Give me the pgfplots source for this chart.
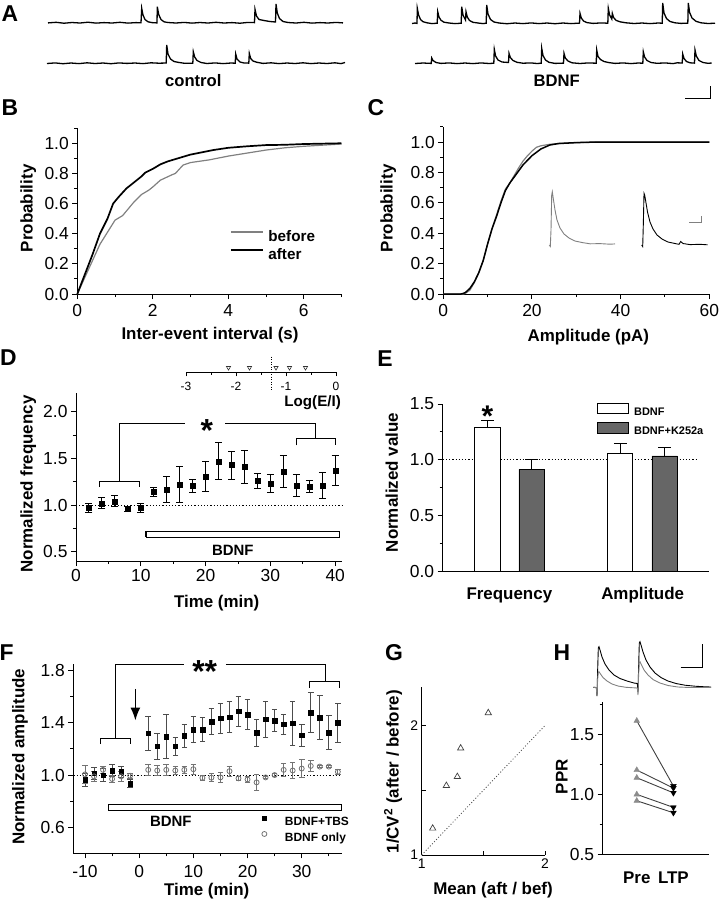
\documentclass[border=0pt]{standalone}
\usepackage{fontspec}
\setmainfont{Liberation Sans}
\usepackage{pgfplots}
\usepackage{pgfplotstable}
\pgfplotsset{compat=1.18}
\usetikzlibrary{arrows.meta}
\newcommand{\fs}[1]{\fontsize{#1}{#1}\selectfont}
\pgfplotsset{myax/.style={scale only axis, anchor=south west, clip=false,
  axis lines*=left, axis line style={-, line width=1bp},
  tick align=outside, major tick length=5bp, minor tick length=3bp,
  tick style={line width=1bp, black},
  tick label style={font=\fs{17.5}},
  /pgf/number format/assume math mode=true}}
\tikzset{lab/.style={font=\bfseries\fs{17}, inner sep=0pt},
         plab/.style={font=\bfseries\fs{23}, inner sep=0pt}}

\pgfplotstableread{
x y
0 0
0.2 0.13
0.4 0.26
0.6 0.40
0.8 0.50
0.95 0.60
1.1 0.645
1.3 0.70
1.5 0.74
1.7 0.78
1.8 0.805
2.0 0.83
2.2 0.86
2.4 0.88
2.6 0.895
2.8 0.91
3.0 0.925
3.3 0.94
3.6 0.955
4.0 0.97
4.5 0.98
5.0 0.988
5.5 0.99
6.0 0.995
7.0 1.0
}\Bafter
\pgfplotstableread{
x y
0 0
0.2 0.11
0.4 0.22
0.6 0.33
0.8 0.41
1.0 0.49
1.2 0.52
1.3 0.55
1.5 0.61
1.7 0.66
1.9 0.69
2.0 0.71
2.2 0.755
2.5 0.79
2.6 0.80
2.8 0.855
3.0 0.872
3.5 0.89
4.0 0.915
4.5 0.935
5.0 0.955
5.5 0.97
6.0 0.98
7.0 0.995
}\Bbefore
\pgfplotstableread{
x y
0 0
4 0
4.5 0.004
5 0.01
6 0.037
7 0.08
8 0.14
9 0.22
10 0.33
11 0.43
12 0.51
13 0.60
14 0.68
15 0.73
16 0.77
17 0.81
18 0.85
19 0.88
20 0.91
22 0.954
24 0.98
26 0.99
30 0.996
35 1.0
60 1.0
}\Cblack
\pgfplotstableread{
x y
0 0
4.5 0
5 0.005
6 0.025
7 0.075
8 0.14
9 0.22
10 0.33
11 0.43
12 0.52
13 0.61
14 0.69
15 0.73
16 0.78
17 0.83
18 0.875
19 0.91
20 0.94
21 0.965
22 0.975
24 0.985
26 0.99
30 0.996
35 1.0
60 1.0
}\Cgray
\pgfplotstableread{
x y e
2 0.97 0.05
4 1.02 0.06
6 1.04 0.06
8 0.96 0.025
10 0.97 0.05
12 1.14 0.05
14 1.17 0.14
16 1.22 0.19
18 1.21 0.07
20 1.31 0.16
22 1.47 0.20
24 1.43 0.15
26 1.41 0.18
28 1.26 0.08
30 1.23 0.10
32 1.36 0.17
34 1.21 0.12
36 1.20 0.06
38 1.21 0.14
40 1.37 0.16
}\Ddata
\pgfplotstableread{
x y e
-10 0.964 0.05
-8.33 1.015 0.045
-6.67 1.0 0.05
-5 1.033 0.045
-3.33 1.025 0.04
-1.67 0.936 0.03
1.67 1.32 0.13
3.33 1.222 0.10
5 1.295 0.17
6.67 1.22 0.07
8.33 1.30 0.09
10 1.35 0.10
11.67 1.35 0.095
13.33 1.41 0.10
15 1.437 0.115
16.67 1.445 0.12
18.33 1.49 0.115
20 1.465 0.115
21.67 1.324 0.105
23.33 1.427 0.14
25 1.417 0.086
26.67 1.39 0.077
28.33 1.398 0.168
30 1.306 0.086
31.67 1.48 0.15
33.33 1.44 0.167
35 1.327 0.13
36.67 1.40 0.15
}\Ftbs
\pgfplotstableread{
x y e
-10 1.005 0.07
-8.33 0.99 0.04
-6.67 1.04 0.03
-5 0.97 0.03
-3.33 0.99 0.04
-1.67 0.995 0.02
1.67 1.04 0.04
3.33 1.035 0.04
5 1.04 0.04
6.67 1.035 0.03
8.33 1.04 0.03
10 1.045 0.04
11.67 0.978 0.02
13.33 0.98 0.03
15 0.982 0.04
16.67 1.03 0.04
18.33 0.975 0.015
20 0.966 0.025
21.67 0.944 0.06
23.33 0.982 0.01
25 1.0 0.01
26.67 1.04 0.05
28.33 1.035 0.06
30 1.05 0.07
31.67 1.07 0.04
33.33 1.065 0.01
35 1.065 0.01
36.67 1.025 0.02
}\Fonly

\begin{document}
\begin{tikzpicture}
\path[use as bounding box] (0,0) rectangle (719bp,-900bp);
% ---------- canvas: traces, labels ----------
\begin{axis}[at={(0bp,0bp)}, anchor=north west, scale only axis, width=719bp, height=900bp,
  xmin=0, xmax=719, ymin=0, ymax=900, y dir=reverse, hide axis, clip=false]
% A traces
\addplot[black, line width=1.3bp] coordinates {(48,22.9) (56,22.3) (64,23.2) (72,22.5) (80,23.0) (88,22.2) (96,23.1) (104,22.6) (112,23.0) (120,22.3) (128,23.1) (136,22.6) (141,22.8) (141.7,8.3) (143,15) (145,19.5) (148,21.8) (152,22.6) (157,22.9) (157.3,6.7) (158.7,14.5) (161,19.5) (164,21.8) (168,22.5) (176,23.0) (184,22.4) (192,23.1) (200,22.5) (208,23.0) (216,22.3) (224,23.0) (232,22.6) (240,23.2) (248,22.4) (254.5,22.6) (255,9.3) (256.5,16) (259,19.5) (264,20.5) (270,21.5) (275.5,22) (276,4) (277.3,13) (279.5,18.5) (283,21.5) (288,22.5) (296,23.0) (304,22.3) (312,23.1) (320,22.6) (328,23.0) (336,22.4) (343,22.9)};
\addplot[black, line width=1.3bp] coordinates {(47,63.5) (55,62.9) (63,63.7) (71,63.0) (79,63.6) (87,62.8) (95,63.5) (103,63.0) (111,63.7) (119,62.9) (127,63.4) (135,63.0) (143,63.6) (151,62.8) (159,63.2) (166.2,63.0) (166.7,45) (168,54) (170.5,59) (174,61.5) (178,62.3) (184,63.2) (192.8,63.3) (193.3,51.7) (194.7,57) (197,60.5) (201,62.5) (207,63.5) (215,62.9) (223,63.6) (231,63.0) (235.2,63.2) (235.7,54) (237,59) (240,62) (244,63.0) (248.8,63.1) (249.3,53.3) (250.7,58.5) (253,61) (257,62.3) (263,63.4) (271,62.8) (279,63.6) (287,63.0) (295,63.5) (303,62.8) (311,63.6) (319,63.0) (327,63.5) (335,62.8) (341,63.6) (345,62.5)};
\addplot[black, line width=1.3bp] coordinates {(412,23.5) (415,23.0) (417,23.4) (417.3,8.3) (418.6,15) (420.5,19.5) (423,21.7) (427,22.8) (432,23.6) (437.2,23.2) (437.7,11.7) (439,17) (441,20.3) (444,22.2) (449,23.0) (455,23.6) (461.2,23.2) (461.7,6.7) (463,15) (465.5,20) (466,11.7) (467.3,17) (469.5,20.5) (473,22.3) (478,23.0) (483,23.6) (486.2,23.2) (486.7,5) (488,14) (490.5,19.5) (494,22) (499,23.0) (507,23.7) (515,23.0) (523,23.6) (531,22.9) (539,23.6) (547,23.0) (555,23.7) (563,23.0) (571,23.6) (579.5,23.1) (580,13.3) (581.3,18) (583.5,21) (587,22.6) (593,23.4) (601,22.9) (607.8,23.2) (608.3,8.3) (609.6,15) (611.8,19) (612.3,13.3) (613.6,17.5) (616,20.3) (620,21.8) (626,22.8) (634,23.5) (642,23.0) (650,23.6) (658,23.0) (662.2,23.2) (662.7,3) (664,13) (666.5,18.5) (670,21.5) (675,22.8) (681,23.4) (687.8,23.1) (688.3,3) (689.6,12.5) (692,18) (696,21.3) (701,22.8) (708,23.5) (715,23.2)};
\addplot[black, line width=1.3bp] coordinates {(415,63.5) (423,63.0) (431.2,63.4) (431.7,58) (433,60.5) (436,62.5) (441,63.4) (449,62.9) (457,63.6) (465,63.0) (473,63.6) (481,62.9) (489,63.5) (493.8,63.2) (494.3,49.3) (495.6,56) (498,60) (502,62) (506,62.3) (508.5,62.5) (509,53.3) (510.3,57.5) (513,60.5) (517,62.3) (523,63.2) (531,62.9) (537,63.5) (541.2,63.2) (541.7,48.3) (543,55.5) (545.5,60) (549,62.3) (555,63.4) (563.5,63.1) (564,53.3) (565.3,58) (568,61) (572,62.8) (580,63.5) (588,62.9) (596.2,63.2) (596.7,50) (598,56.5) (600.5,59.5) (604,61.5) (609,62.6) (615,63.4) (623,62.9) (631,63.6) (638,63.0) (642.8,63.2) (643.3,51.7) (644.6,57) (647,60.5) (651,62.5) (657,63.3) (665,62.9) (673,63.6) (677,62.8) (682.2,63.0) (682.7,54) (684,58.5) (686.5,61.5) (690,62.8) (694.5,63.1) (695,50) (696.3,56) (699,60.5) (703,62.5) (708,63.3) (711.7,63.0)};
\addplot[black, line width=1bp] coordinates {(685,98.3) (710.7,98.3) (710.7,86)};
% C inset traces
\addplot[gray, line width=0.9bp] coordinates {(549.3,245) (550.3,246.5) (551,230) (551.7,195) (552.3,191.7) (553.5,200) (555,210) (557,220) (560,228) (564,234) (569,238) (575,241) (582,242.5) (590,243.8) (600,243.6) (610,244.2) (615,243.9)};
\addplot[black, line width=0.9bp] coordinates {(641.7,245) (642.7,246.5) (643.3,225) (644,193.3) (644.7,195) (646,203) (647.5,212) (650,222) (653,229) (657,235) (662,239) (668,242) (675,243.5) (679,244.3) (680.7,241.5) (683,243.5) (690,244.6) (700,244.3) (707.7,244.8)};
\addplot[gray, line width=0.9bp] coordinates {(689.3,222.7) (701,222.7) (701,216)};
% H traces
\addplot[black, line width=0.9bp] coordinates {(593.3,687.3) (596.3,687.5) (597,696) (597.6,672) (598.3,648) (599,646.7) (600,650) (602,657) (605,664) (609,670) (614,675) (620,678.5) (627,681) (634,683) (637.3,683.5) (638,692) (638.6,668) (639.3,643) (640,641.7) (641,645) (643,652) (646,660) (650,667) (655,673) (661,677.5) (668,681) (676,683.5) (685,685.2) (695,686.2) (705,686.8) (711,687)};
\addplot[gray, line width=0.9bp] coordinates {(593.3,687.3) (596.3,687.5) (597,696) (597.6,680) (598.3,672) (599,671.7) (600.5,674) (603,677.5) (607,681) (612,684) (618,686) (626,687.3) (634,687.8) (637.3,688) (638,695) (638.6,675) (639.3,662) (640,661.7) (641.5,665) (644,670) (648,675) (653,679.5) (660,683) (668,685.5) (678,687) (690,687.5) (711,687.5)};
\addplot[black, line width=1bp] coordinates {(680.7,667.7) (702.3,667.7) (702.3,644)};
% panel letters
\node[plab] at (axis cs:10,13.3) {A};
\node[plab] at (axis cs:10,108) {B};
\node[plab] at (axis cs:376,108) {C};
\node[plab] at (axis cs:8.5,357.5) {D};
\node[plab] at (axis cs:385,359) {E};
\node[plab] at (axis cs:6.5,652.5) {F};
\node[plab] at (axis cs:394,653) {G};
\node[plab] at (axis cs:562,653) {H};
% texts
\node[lab, font=\bfseries\fs{16.7}] at (axis cs:193.3,81) {control};
\node[lab, font=\bfseries\fs{16.7}] at (axis cs:556.7,81) {BDNF};
\node[lab, rotate=90] at (axis cs:28.3,208.3) {Probability};
\node[lab] at (axis cs:210,335) {Inter-event interval (s)};
\node[lab, rotate=90] at (axis cs:388.3,208.3) {Probability};
\node[lab] at (axis cs:588.3,336.7) {Amplitude (pA)};
\node[lab, rotate=90] at (axis cs:28.3,484) {Normalized frequency};
\node[lab] at (axis cs:216.7,603.3) {Time (min)};
\node[lab, font=\bfseries\fs{15.2}, anchor=east] at (axis cs:341,402.3) {Log(E/I)};
\node[lab, rotate=90] at (axis cs:391.7,482.5) {Normalized value};
\node[lab, rotate=90] at (axis cs:20,756.7) {Normalized amplitude};
\node[lab] at (axis cs:206.7,891) {Time (min)};
\node[lab, rotate=90] at (axis cs:393,771.7) {1/CV\textsuperscript{2} (after / before)};
\node[lab] at (axis cs:493,890) {Mean (aft / bef)};
\node[lab, rotate=90] at (axis cs:561.7,776.7) {PPR};
\end{axis}

% ---------- B ----------
\begin{axis}[myax, at={(77.3bp,-294bp)}, width=264.2bp, height=165.8bp,
  xmin=0, xmax=7, ymin=0, ymax=1.1,
  xtick={0,2,4,6}, xticklabels={0,2,4,6}, minor xtick={1,3,5,7},
  ytick={0,0.2,0.4,0.6,0.8,1.0}, yticklabels={0.0,0.2,0.4,0.6,0.8,1.0},
  minor ytick={0.1,0.3,0.5,0.7,0.9,1.1},
  x tick label style={yshift=-2bp},
  legend style={at={(0.578,0.386)}, anchor=north west, draw=none, fill=none,
    inner sep=0pt, outer sep=0pt, row sep=4bp, font=\bfseries\fs{15.3},
    nodes={inner sep=0pt, text height=11bp, text depth=3bp},
    /tikz/every odd column/.append style={column sep=5bp}},
  legend cell align=left,
  legend image code/.code={\draw[#1] (0bp,5bp) -- (31.7bp,5bp);}]
\addplot[gray, line width=1.2bp] table[x=x,y=y] {\Bbefore};
\addlegendentry{before}
\addplot[black, line width=1.7bp] table[x=x,y=y] {\Bafter};
\addlegendentry{after}
\end{axis}

% ---------- C ----------
\begin{axis}[myax, at={(443.3bp,-294bp)}, width=266bp, height=167.2bp,
  xmin=0, xmax=60, ymin=0, ymax=1.1,
  xtick={0,20,40,60}, xticklabels={0,20,40,60}, minor xtick={10,30,50},
  x tick label style={yshift=-2bp},
  ytick={0,0.2,0.4,0.6,0.8,1.0}, yticklabels={0.0,0.2,0.4,0.6,0.8,1.0},
  minor ytick={0.1,0.3,0.5,0.7,0.9,1.1}]
\addplot[gray, line width=1.2bp] table[x=x,y=y] {\Cgray};
\addplot[black, line width=1.5bp] table[x=x,y=y] {\Cblack};
\end{axis}

% ---------- D inset ----------
\begin{axis}[scale only axis, anchor=south west, clip=false, at={(186bp,-372.3bp)},
  width=150bp, height=20bp, xmin=-3, xmax=0, ymin=0, ymax=1,
  axis x line*=bottom, axis y line=none, axis line style={-, line width=1bp},
  tick align=outside, major tick length=4bp, minor tick length=2.5bp,
  tick style={line width=1bp, black},
  xtick={-3,-2,-1,0}, xticklabels={-3,-2,-1,0}, minor xtick={-2.5,-1.5,-0.5},
  tick label style={font=\fs{12}, yshift=-2bp}]
\addplot[only marks, mark=triangle, mark size=2.4bp, mark options={rotate=180, fill=white, line width=0.6bp}, black!80] coordinates {(-2.15,0.23) (-1.73,0.23) (-1.2,0.23) (-0.93,0.23) (-0.61,0.23)};
\addplot[black, line width=0.8bp, dash pattern=on 1bp off 1.5bp] coordinates {(-1.29,0.78) (-1.29,-0.885)};
\end{axis}

% ---------- D ----------
\begin{axis}[myax, at={(76bp,-561bp)}, width=265.7bp, height=167.7bp,
  xmin=0, xmax=41, ymin=0.4, ymax=2.2,
  xtick={0,10,20,30,40}, xticklabels={0,10,20,30,40}, minor xtick={5,15,25,35},
  ytick={0.5,1,1.5,2}, yticklabels={0.5,1.0,1.5,2.0}, minor ytick={0.75,1.25,1.75}]
\addplot[black, line width=0.8bp, dash pattern=on 1.2bp off 2bp] coordinates {(0,1) (41,1)};
\addplot[only marks, mark=square*, mark size=2.5bp, black,
  error bars/.cd, y dir=both, y explicit,
  error bar style={line width=1bp, black},
  error mark options={rotate=90, mark size=3.5bp, line width=1bp}]
  table[x=x, y=y, y error=e] {\Ddata};
\addplot[fill=white, draw=black, line width=1.2bp] coordinates {(10.8,0.656) (40.6,0.656) (40.6,0.72) (10.8,0.72) (10.8,0.656)};
\addplot[black, line width=1bp] coordinates {(3.7,1.193) (3.7,1.257) (9.77,1.257) (9.77,1.193)};
\addplot[black, line width=1bp] coordinates {(6.69,1.257) (6.69,1.879) (16.8,1.879)};
\addplot[black, line width=1bp] coordinates {(23.0,1.879) (36.99,1.879) (36.99,1.711)};
\addplot[black, line width=1bp] coordinates {(34.06,1.64) (34.06,1.711) (39.97,1.711) (39.97,1.64)};
\node[font=\bfseries\fs{32}, inner sep=0pt] at (axis cs:20.2,1.80) {*};
\node[lab, font=\bfseries\fs{15}] at (axis cs:24.2,0.51) {BDNF};
\end{axis}

% ---------- E ----------
\begin{axis}[myax, at={(442.7bp,-571bp)}, width=266.6bp, height=167bp,
  xmin=0.5, xmax=2.5, ymin=0, ymax=1.5,
  xtick={1,2}, xticklabels={Frequency,Amplitude},
  x tick label style={font=\bfseries\fs{17}, yshift=-8bp}, xtick style={draw=none},
  ytick={0,0.5,1,1.5}, yticklabels={0.0,0.5,1.0,1.5}, minor ytick={0.25,0.75,1.25},
  legend style={at={(0.5775,1.008)}, anchor=north west, draw=none, fill=none,
    inner sep=0pt, outer sep=0pt, row sep=4.5bp, font=\bfseries\fs{11},
    nodes={inner sep=0pt, text height=8bp, text depth=2.5bp},
    /tikz/every odd column/.append style={column sep=5bp}},
  legend cell align=left,
  legend image code/.code={\draw[#1] (0bp,-1.3bp) rectangle (31.6bp,9.3bp);}]
\addplot[black, line width=0.8bp, dash pattern=on 1.2bp off 2bp, forget plot] coordinates {(0.5,1) (2.405,1)};
\addplot[ybar, bar width=0.19, bar shift=0pt, fill=white, draw=black, line width=0.9bp, forget plot,
  error bars/.cd, y dir=plus, y explicit,
  error bar style={line width=0.9bp, black},
  error mark options={rotate=90, mark size=6.3bp, line width=0.9bp}]
  coordinates {(0.835,1.29) +- (0,0.063) (1.832,1.057) +- (0,0.09)};
\addplot[ybar, bar width=0.19, bar shift=0pt, fill=black!60, draw=black, line width=0.9bp, forget plot,
  error bars/.cd, y dir=plus, y explicit,
  error bar style={line width=0.9bp, black},
  error mark options={rotate=90, mark size=6.3bp, line width=0.9bp}]
  coordinates {(1.167,0.913) +- (0,0.087) (2.165,1.033) +- (0,0.075)};
\addlegendimage{fill=white, draw=black, line width=0.9bp}
\addlegendentry{BDNF}
\addlegendimage{fill=black!60, draw=black, line width=0.9bp}
\addlegendentry{BDNF+K252a}
\node[font=\bfseries\fs{30}, inner sep=0pt] at (axis cs:0.835,1.39) {*};
\end{axis}

% ---------- F ----------
\begin{axis}[myax, at={(73.3bp,-853.3bp)}, width=268.4bp, height=189.1bp,
  xmin=-12.16, xmax=37.38, ymin=0.4, ymax=1.85,
  xtick={-10,0,10,20,30}, xticklabels={-10,0,10,20,30}, minor xtick={-5,5,15,25,35},
  x tick label style={yshift=-3bp},
  ytick={0.6,1,1.4,1.8}, yticklabels={0.6,1.0,1.4,1.8}, minor ytick={0.8,1.2,1.6},
  legend style={at={(0.7026,0.198)}, anchor=north west, draw=none, fill=none,
    inner sep=0pt, outer sep=0pt, row sep=3bp, font=\bfseries\fs{12},
    nodes={inner sep=0pt, text height=9bp, text depth=3bp},
    /tikz/every odd column/.append style={column sep=18bp}},
  legend cell align=left,
  legend image code/.code={\draw[#1] plot coordinates {(2bp,4.3bp)};}]
\addplot[black, line width=0.8bp, dash pattern=on 1.2bp off 2bp, forget plot] coordinates {(-12.16,1) (37.38,1)};
\addplot[only marks, mark=square*, mark size=2.3bp, black, forget plot,
  error bars/.cd, y dir=both, y explicit,
  error bar style={line width=0.8bp, black!70},
  error mark options={rotate=90, mark size=2.8bp, line width=0.8bp, black!70}]
  table[x=x, y=y, y error=e] {\Ftbs};
\addplot[only marks, mark=o, mark size=2.5bp, black!55, mark options={fill=white, line width=0.8bp}, forget plot,
  error bars/.cd, y dir=both, y explicit,
  error bar style={line width=0.8bp, black!55},
  error mark options={rotate=90, mark size=2.8bp, line width=0.8bp, black!55}]
  table[x=x, y=y, y error=e] {\Fonly};
\addplot[fill=white, draw=black, line width=1.2bp, forget plot] coordinates {(-5.7,0.731) (37.3,0.731) (37.3,0.777) (-5.7,0.777) (-5.7,0.731)};
\addplot[black, line width=1bp, forget plot] coordinates {(-7.07,1.238) (-7.07,1.281) (-1.53,1.281) (-1.53,1.238)};
\addplot[black, line width=1bp, forget plot] coordinates {(-4.43,1.281) (-4.43,1.848) (8.3,1.848)};
\addplot[black, line width=1bp, forget plot] coordinates {(16.0,1.848) (34.3,1.848) (34.3,1.716)};
\addplot[black, line width=1bp, forget plot] coordinates {(31.5,1.67) (31.5,1.716) (36.9,1.716) (36.9,1.67)};
\addplot[black, line width=1.6bp, -{Latex[length=13bp,width=10bp]}, forget plot] coordinates {(-0.7,1.66) (-0.7,1.418)};
\addlegendimage{only marks, mark=square*, mark size=2.3bp, black}
\addlegendentry{BDNF+TBS}
\addlegendimage{only marks, mark=o, mark size=2.5bp, black!55, mark options={fill=white, line width=0.8bp}}
\addlegendentry{BDNF only}
\node[font=\bfseries\fs{32}, inner sep=0pt] at (axis cs:12.1,1.79) {**};
\node[lab, font=\bfseries\fs{15}] at (axis cs:5.85,0.643) {BDNF};
\end{axis}

% ---------- G ----------
\begin{axis}[myax, tick align=inside, major tick length=4bp, minor tick length=4bp,
  at={(421.7bp,-855bp)}, width=123.3bp, height=168.3bp,
  xmin=1, xmax=2, ymin=1, ymax=2.3,
  xtick={1,2}, xticklabels={1,2}, minor xtick={1.5},
  ytick={1,2}, yticklabels={1,2}, minor ytick={1.5},
  tick label style={font=\fs{14}}]
\addplot[black!70, line width=0.8bp, dash pattern=on 1bp off 2bp] coordinates {(1,1) (2,2)};
\addplot[only marks, mark=triangle, mark size=3.6bp, black!75, mark options={line width=0.7bp, fill=white}] coordinates {(1.089,1.206) (1.20,1.536) (1.289,1.605) (1.316,1.825) (1.54,2.098)};
\end{axis}

% ---------- H ----------
\begin{axis}[myax, at={(602.7bp,-854bp)}, width=106.6bp, height=152.3bp,
  xmin=0.07, xmax=2.98, ymin=0.5, ymax=1.77,
  xtick={1,2}, xticklabels={Pre,LTP}, x tick label style={font=\bfseries\fs{17}, yshift=-9bp},
  xtick style={draw=none},
  ytick={0.5,1,1.5}, yticklabels={0.5,1.0,1.5}, minor ytick={0.75,1.25,1.75}]
\addplot[black!75, line width=0.9bp] coordinates {(1,1.611) (2,1.067)};
\addplot[black!75, line width=0.9bp] coordinates {(1,1.2) (2,1.05)};
\addplot[black!75, line width=0.9bp] coordinates {(1,1.136) (2,1.01)};
\addplot[black!75, line width=0.9bp] coordinates {(1,0.997) (2,0.889)};
\addplot[black!75, line width=0.9bp] coordinates {(1,0.944) (2,0.844)};
\addplot[only marks, mark=triangle*, mark size=3.3bp, black!45] coordinates {(1,1.611) (1,1.2) (1,1.136) (1,0.997) (1,0.944)};
\addplot[only marks, mark=triangle*, mark size=3.3bp, black, mark options={rotate=180}] coordinates {(2,1.067) (2,1.05) (2,1.01) (2,0.889) (2,0.844)};
\end{axis}
\end{tikzpicture}
\end{document}
